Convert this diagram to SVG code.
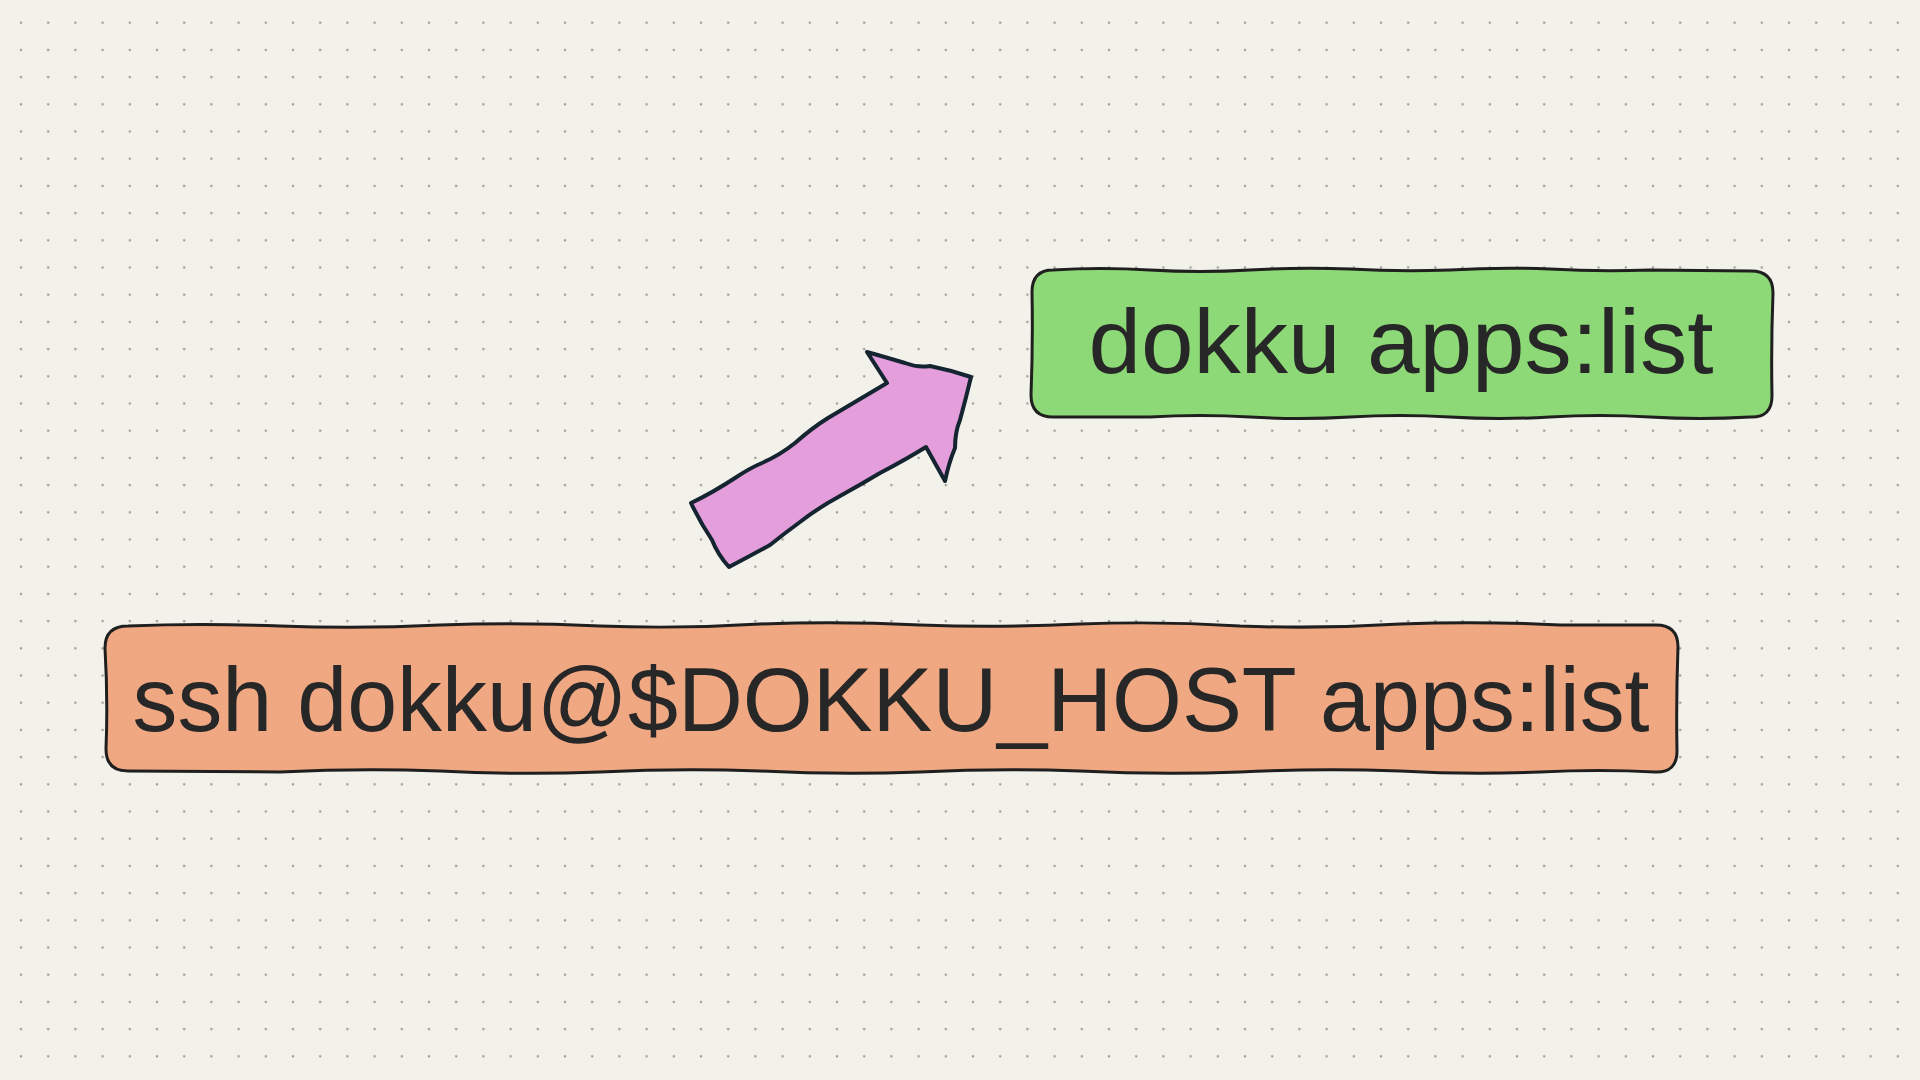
<svg xmlns="http://www.w3.org/2000/svg" width="1920" height="1080" viewBox="0 0 1920 1080">
<defs>
<pattern id="dots" patternUnits="userSpaceOnUse" x="7.4" y="9.1" width="27.2" height="27.2">
<circle cx="13.6" cy="13.6" r="1.3" fill="#9d9d96"/>
</pattern>
<style>
.box{stroke:#1f1f1f;stroke-width:3;stroke-linejoin:round}
.lbl{font-family:"Liberation Sans",Arial,sans-serif;fill:#272727;font-size:91px}
</style>
</defs>
<rect width="1920" height="1080" fill="#f3f2ea"/>
<rect width="1920" height="1080" fill="url(#dots)"/>
<g id="connectors">
<path id="arrow" d="M691,503 Q712,493 735,478 Q750,468 762,463 Q780,455 795,443 Q812,428 828,418 Q855,402 887,383 L867,352 Q885,357 905,363 Q918,368 930,366 Q950,370 971,377 Q966,398 960,420 Q955,432 955,448 Q949,462 945,481 L926,447 Q905,460 880,473 Q860,485 840,496 Q818,508 800,522 Q785,533 770,545 Q750,556 729,567 Q718,555 712,540 Q700,522 691,503 Z" fill="#e49edb" stroke="#142430" stroke-width="4" stroke-linejoin="round"/>
</g>
<g id="node-green">
<path class="box" fill="#8ed977" d="M1053,270 Q1100,267 1150,270 Q1200,273 1250,270 Q1300,267 1350,269 Q1400,272 1450,270 Q1500,267 1550,269 Q1600,272 1650,270 L1751,271 Q1773,271 1773,293 Q1771,345 1772,396 Q1772,418 1750,417 Q1700,420 1650,417 Q1600,414 1550,417 Q1500,420 1450,417 Q1400,414 1350,417 Q1300,420 1250,417 Q1200,414 1150,417 L1053,417 Q1031,417 1031,395 Q1033,345 1032,292 Q1032,270 1053,270 Z"/>
<text class="lbl" x="1401" y="373" text-anchor="middle" textLength="625" lengthAdjust="spacingAndGlyphs">dokku apps:list</text>
</g>
<g id="node-orange">
<path class="box" fill="#f0a883" d="M128,626 Q200,623 280,626 Q360,629 440,625 Q520,622 600,626 Q680,629 760,624 Q840,621 920,625 Q1000,628 1080,624 Q1160,621 1240,626 Q1320,629 1400,624 Q1480,621 1560,625 L1656,625 Q1678,625 1678,647 Q1676,700 1677,751 Q1677,773 1655,772 Q1600,769 1540,772 Q1470,775 1400,771 Q1320,768 1240,772 Q1160,775 1080,771 Q1000,768 920,772 Q840,775 760,771 Q680,768 600,772 Q520,775 440,771 Q360,768 280,772 L128,771 Q106,771 106,749 Q108,700 105,648 Q105,626 128,626 Z"/>
<text class="lbl" x="891" y="731" text-anchor="middle" textLength="1517" lengthAdjust="spacingAndGlyphs">ssh dokku@$DOKKU_HOST apps:list</text>
</g>
</svg>
